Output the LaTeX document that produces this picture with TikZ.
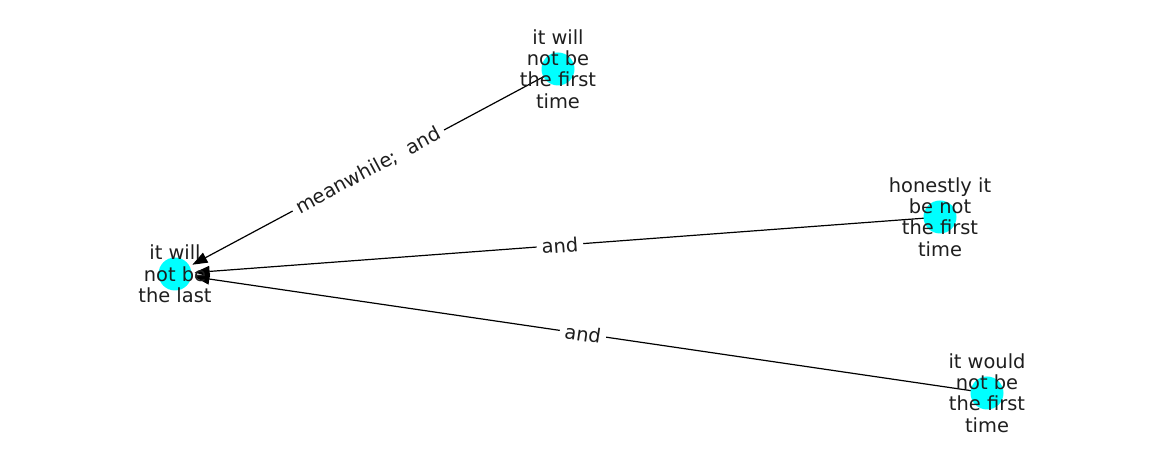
\documentclass[tikz,border=0pt]{standalone}
\usepackage{fontspec}
\setmainfont{DejaVu Sans}
\usetikzlibrary{arrows.meta,backgrounds}
\definecolor{wordcyan}{RGB}{0,255,255}
\definecolor{wordink}{RGB}{30,30,30}

\tikzset{%
  word dot/.style={
    circle,
    fill=wordcyan,
    minimum size=33bp,
    inner sep=0pt
  },
  word text/.style={
    align=center,
    inner sep=0pt,
    text=wordink,
    font=\fontsize{19.5}{21.5}\selectfont
  },
  relation/.style={
    line width=1.2bp,
    shorten >=3bp,
    -{Triangle[length=15bp,width=11bp]}
  },
  relation label/.style={
    fill=white,
    inner sep=5bp,
    sloped,
    pos=0.508,
    text=wordink,
    font=\fontsize{19.5}{21.5}\selectfont
  },
}

\begin{document}
\begin{tikzpicture}[x=1bp,y=-1bp]
\useasboundingbox (0,0) rectangle (1162,462);
% nodes
\node[word dot] (last) at (175,274) {};
\node[word dot] (willnot) at (558,69) {};
\node[word dot] (honestly) at (940,217) {};
\node[word dot] (wouldnot) at (987,393) {};
\node[word text] at (last) {it will\\not be\\the last};
\node[word text] at (willnot) {it will\\not be\\the first\\time};
\node[word text] at (honestly) {honestly it\\be not\\the first\\time};
\node[word text] at (wouldnot) {it would\\not be\\the first\\time};
% edges
\begin{scope}[on background layer]
\draw[relation] (willnot.center) -- node[relation label, pos=0.515] {meanwhile;\ \ and} (last);
\draw[relation] (honestly.center) -- node[relation label] {and} (last);
\draw[relation] (wouldnot.center) -- node[relation label] {and} (last);
\end{scope}
\end{tikzpicture}
\end{document}
